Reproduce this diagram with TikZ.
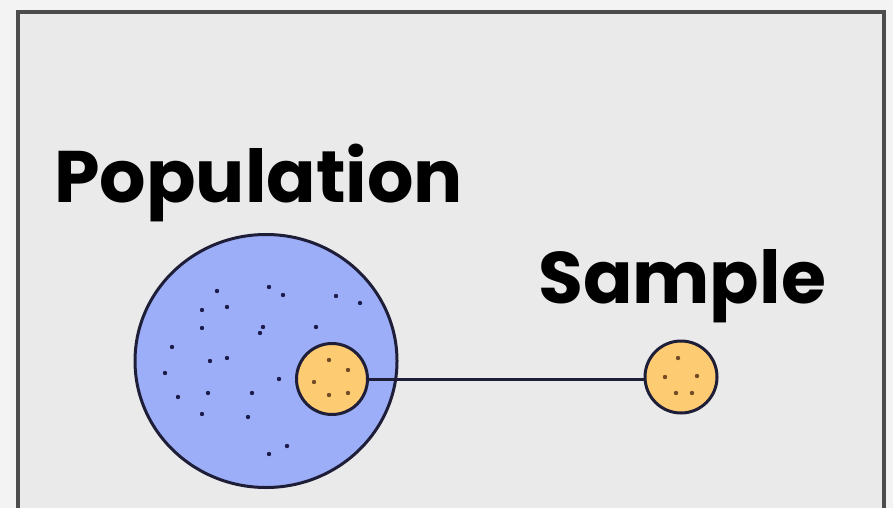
\documentclass[tikz,border=0pt]{standalone}
\usepackage{fontspec}
\setmainfont{Poppins}
\usetikzlibrary{shapes.geometric}

\definecolor{fond}{HTML}{F3F3F3}
\definecolor{fondcadre}{HTML}{EAEAEA}
\definecolor{bleupop}{HTML}{9DAEF8}
\definecolor{orangeech}{HTML}{FCCB72}
\definecolor{trait}{HTML}{1E1E38}

\tikzset{
  titre/.style={font=\bfseries\fontsize{73}{73}\selectfont, inner sep=0pt},
  rond/.style={draw=trait, line width=3pt},
  point/.style={fill=trait!90!blue},
}

\begin{document}
\begin{tikzpicture}[x=1pt,y=-1pt] % repère en pixels, y vers le bas
\useasboundingbox (0,0) rectangle (893,508);
\fill[fond] (0,0) rectangle (893,508);
\fill[fondcadre] (18,12.5) rectangle (884,508);
\draw[line width=4pt, black!70] (18,508) -- (18,12.5) -- (884,12.5) -- (884,508);

\node[titre, anchor=base west] (pop) at (54,202) {Population};
\node[titre, anchor=base west] (ech) at (538,303) {Sample};

\node[rond, ellipse, fill=bleupop, minimum width=262pt, minimum height=253pt, inner sep=0pt] (popu) at (266,361) {};
\foreach \x/\y in {217/291, 269/287, 283/295, 336/296, 360/303, 202/310, 227/307, 202/328,
  263/327, 260/333, 316/327, 172/347, 210/361, 227/358, 165/373, 279/379, 178/397,
  208/393, 252/393, 202/414, 248/417, 287/446, 269/454}
  \fill[point] (\x,\y) circle (2.2);

\node[rond, circle, fill=orangeech, minimum size=71pt, inner sep=0pt] (sousens) at (332,379) {};
\node[rond, circle, fill=orangeech, minimum size=72pt, inner sep=0pt] (sample) at (681,377) {};
\foreach \x/\y in {329/360, 348/370, 314/382, 329/395, 348/393,
  678/358, 697/376, 665/377, 676/393, 692/393}
  \fill[brown!60!black] (\x,\y) circle (2.2);

\draw[rond] (sousens.east) -- (sousens.east -| sample.west);
\end{tikzpicture}
\end{document}
